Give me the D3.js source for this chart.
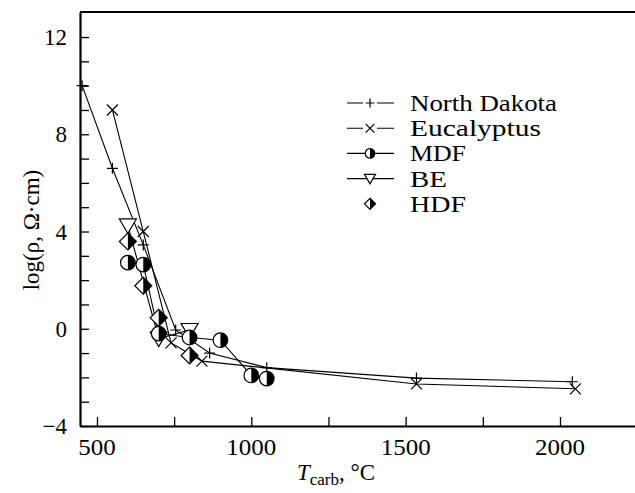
<!DOCTYPE html>
<html><head><meta charset="utf-8">
<script src="https://cdn.jsdelivr.net/npm/d3@7"></script>
<style>body{margin:0;background:#fff}svg{display:block}</style>
</head><body>
<svg id="c" width="635" height="493"></svg>
<script>
const seriesNames = ["North Dakota", "Eucalyptus", "MDF", "BE", "HDF"];
const northDakotaX = [452, 550, 650, 755, 865, 1050, 1535, 2040];
const northDakotaY = [10.0, 6.6, 3.45, -0.05, -1.0, -1.6, -2.03, -2.18];
const eucalyptusX = [550, 650, 740, 840, 1535, 2050];
const eucalyptusY = [9.0, 4.0, -0.58, -1.33, -2.27, -2.47];
const mdfX = [600, 650, 700, 800, 900, 1000, 1050];
const mdfY = [2.72, 2.64, -0.2, -0.36, -0.47, -1.92, -2.05];
const beX = [600, 700, 800];
const beY = [4.25, -0.4, -0.05];
const hdfX = [600, 650, 700, 800];
const hdfY = [3.59, 1.77, 0.45, -1.1];
const xTicks = [500, 1000, 1500, 2000];
const xMinor = [750, 1250, 1750];
const yTicks = [-4, 0, 4, 8, 12];
const yMinor = [-3,-2,-1,1,2,3,5,6,7,9,10,11];

const FONT = '"Liberation Serif", "DejaVu Serif", serif';
const svg = d3.select("#c");
const x = d3.scaleLinear().domain([445, 2243]).range([80, 635]);
const y = d3.scaleLinear().domain([-4, 13.03]).range([426, 12]);

const zip = (xs, ys) => xs.map((v, i) => [v, ys[i]]);
const series = [
  {name: seriesNames[0], data: zip(northDakotaX, northDakotaY), type: "plus", line: true, w: 147},
  {name: seriesNames[1], data: zip(eucalyptusX, eucalyptusY), type: "cross", line: true, w: 131},
  {name: seriesNames[3], data: zip(beX, beY), type: "tri", line: true, w: 37},
  {name: seriesNames[2], data: zip(mdfX, mdfY), type: "circ", line: true, w: 56},
  {name: seriesNames[4], data: zip(hdfX, hdfY), type: "diam", line: false, w: 56}
];

// axes
const gx = svg.append("g").attr("transform", "translate(0,426)")
  .call(d3.axisBottom(x).tickValues(xTicks.concat(xMinor)).tickSizeInner(-9).tickSizeOuter(0).tickFormat(""));
const gy = svg.append("g").attr("transform", "translate(80,0)")
  .call(d3.axisLeft(y).tickValues(yTicks.concat(yMinor)).tickSizeInner(-9).tickSizeOuter(0).tickFormat(""));
[gx, gy].forEach(g => { g.select(".domain").attr("stroke", "#000").attr("stroke-width", 2.2);
  g.selectAll(".tick line").attr("stroke", "#000").attr("stroke-width", 1.3); });
svg.append("line").attr("x1", x.range()[0]).attr("x2", x.range()[1]).attr("y1", y.range()[1]).attr("y2", y.range()[1])
  .attr("stroke", "#000").attr("stroke-width", 2.2);

const T = svg.append("g").style("font-family", FONT).attr("fill", "#000");
T.append("g").selectAll("text").data(xTicks).join("text").style("font-family", FONT)
  .attr("x", d => x(d)).attr("y", 455).attr("text-anchor", "middle").attr("font-size", 23)
  .attr("textLength", d => String(d).length * 12.5).attr("lengthAdjust", "spacingAndGlyphs").text(d => d);
T.append("g").selectAll("text").data(yTicks).join("text").style("font-family", FONT)
  .attr("x", 67).attr("y", d => y(d) + 8).attr("text-anchor", "end").attr("font-size", 23)
  .text(d => d < 0 ? "\u2212" + Math.abs(d) : d);

// axis labels
T.append("text").style("font-family", FONT).attr("transform", "translate(39,230) rotate(-90)").attr("text-anchor", "middle")
  .attr("font-size", 23).text("log(\u03c1, \u03a9\u00b7cm)");
const xl = T.append("text").style("font-family", FONT).attr("x", 336).attr("y", 480).attr("text-anchor", "middle").attr("font-size", 23);
xl.append("tspan").attr("font-style", "italic").text("T");
xl.append("tspan").attr("font-size", 17).attr("dy", 5).text("carb");
xl.append("tspan").attr("dy", -5).text(", \u00b0C");

// lines
const lineGen = d3.line().x(d => x(d[0])).y(d => y(d[1]));
series.filter(s => s.line).forEach(s => {
  svg.append("path").attr("d", lineGen(s.data)).attr("fill", "none").attr("stroke", "#000").attr("stroke-width", 1.1);
});

function drawMarker(g, type, cx, cy, sc) {
  const m = g.append("g").attr("transform", `translate(${cx},${cy}) scale(${sc})`);
  if (type === "plus") {
    m.append("path").attr("d", "M-5.5,0H5.5M0,-5.5V5.5").attr("stroke", "#000").attr("stroke-width", 1.2 / sc).attr("fill", "none");
  } else if (type === "cross") {
    m.append("path").attr("d", "M-5.5,-5.5L5.5,5.5M-5.5,5.5L5.5,-5.5").attr("stroke", "#000").attr("stroke-width", 1.2 / sc).attr("fill", "none");
  } else if (type === "circ") {
    m.append("circle").attr("r", 7.3).attr("fill", "#fff").attr("stroke", "#000").attr("stroke-width", 1.2 / sc);
    m.append("path").attr("d", "M0,-7.3A7.3,7.3 0 0 1 0,7.3Z").attr("fill", "#000");
  } else if (type === "diam") {
    m.append("path").attr("d", "M0,-8.5L8.5,0L0,8.5L-8.5,0Z").attr("fill", "#fff").attr("stroke", "#000").attr("stroke-width", 1.2 / sc);
    m.append("path").attr("d", "M0,-8.5L8.5,0L0,8.5Z").attr("fill", "#000");
  } else if (type === "tri") {
    m.append("path").attr("d", "M-8.5,-6.5L8.5,-6.5L0,8Z").attr("fill", "#fff").attr("stroke", "#000").attr("stroke-width", 1.2 / sc);
  }
}

series.forEach(s => {
  const g = svg.append("g");
  s.data.forEach(d => drawMarker(g, s.type, x(d[0]), y(d[1]), 1));
});

// legend
const legOrder = [series[0], series[1], series[3], series[2], series[4]];
const leg = svg.append("g");
legOrder.forEach((s, i) => {
  const ly = 103 + i * 25.2;
  if (s.line) leg.append("line").attr("x1", 347).attr("x2", 394).attr("y1", ly).attr("y2", ly).attr("stroke", "#000").attr("stroke-width", 1.1);
  if (s.line) leg.append("rect").attr("x", 363).attr("y", ly - 6).attr("width", 14).attr("height", 12).attr("fill", s.type === "plus" || s.type === "cross" ? "#fff" : "none");
  drawMarker(leg, s.type, 370, ly, s.type === "plus" || s.type === "cross" ? 0.8 : 0.65);
  leg.append("text").attr("x", 410).attr("y", ly + 8).attr("font-size", 23).style("font-family", FONT).attr("fill", "#000")
    .attr("textLength", s.w).attr("lengthAdjust", "spacingAndGlyphs").text(s.name);
});
</script>
</body></html>
